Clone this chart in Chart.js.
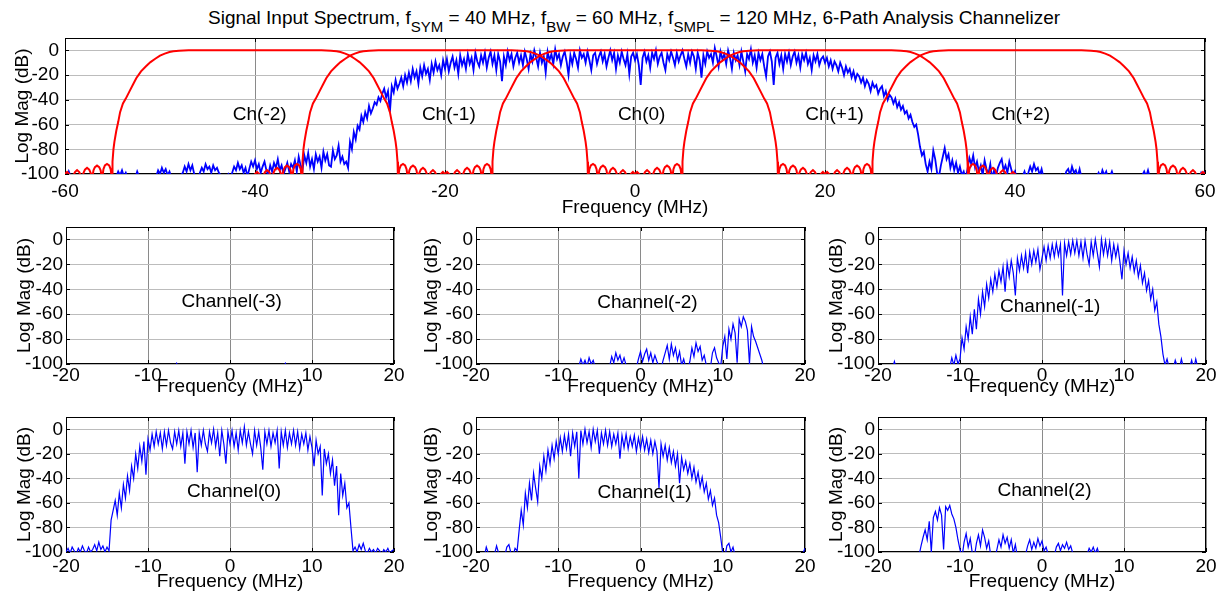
<!DOCTYPE html>
<html lang="en">
<head>
<meta charset="UTF-8">
<title>6-Path Analysis Channelizer</title>
<script src="https://cdn.jsdelivr.net/npm/chart.js@4.4.1/dist/chart.umd.min.js"></script>
<style>
    body { margin: 0; background: #fff; width: 1223px; height: 599px; overflow: hidden; position: relative;
           font-family: "Liberation Sans", Arial, sans-serif; }
    canvas { position: absolute; }
    #title { position: absolute; left: 208px; top: 7px; font-size: 19px; line-height: 22px; white-space: nowrap; color: #000; }
    #title sub { font-size: 15px; vertical-align: -8px; line-height: 0; }
</style>
</head>
<body>
<div id="title">Signal Input Spectrum, f<sub>SYM</sub> = 40 MHz, f<sub>BW</sub> = 60 MHz, f<sub>SMPL</sub> = 120 MHz, 6-Path Analysis Channelizer</div>

<script>
    //---------------------------------------- data ----------------------------------------

    // top panel: input spectrum, one value every 0.2 MHz from -60 to 60 (each row = 4 MHz)
    var topFreqStart = -60, topFreqStep = 0.2;
    var topSpectrumDb = [
        -100, -103, -98, -102, -104, -101, -103, -105, -102, -104, -103, -105, -102, -104, -101, -103, -105, -104, -102, -104,
        -103, -105, -102, -104, -103, -101, -104, -102, -98, -101, -97, -102, -99, -103, -104, -102, -105, -103, -98, -102,
        -104, -103, -105, -102, -104, -101, -103, -105, -102, -97, -100, -95, -99, -96, -101, -98, -103, -104, -102, -105,
        -103, -101, -99, -94, -98, -92, -97, -93, -100, -103, -104, -99, -95, -98, -92, -96, -94, -99, -93, -97,
        -95, -99, -101, -103, -104, -102, -100, -104, -99, -94, -97, -91, -96, -93, -99, -95, -102, -96, -90, -94,
        -89, -96, -92, -99, -94, -90, -97, -101, -93, -98, -91, -95, -88, -97, -93, -100, -96, -91, -98, -92,
        -95, -89, -98, -86, -93, -97, -85, -91, -83, -94, -88, -96, -84, -90, -86, -95, -82, -89, -84, -93,
        -94, -81, -88, -85, -77, -90, -86, -92, -90, -95, -74, -80, -66, -72, -61, -64, -53, -58, -50, -55,
        -45, -51, -47, -42, -44, -38, -41, -35, -31, -38, -33, -50, -29, -34, -24, -31, -27, -22, -29, -20,
        -26, -18, -25, -15, -22, -17, -27, -14, -21, -12, -19, -15, -24, -11, -18, -9, -16, -12, -20, -8,
        -15, -7, -17, -10, -5, -14, -8, -19, -4, -12, -7, -15, -3, -11, -6, -16, -2, -9, -13, -4,
        -10, -2, -14, -6, -1, -11, -4, -16, -3, -9, -25, -5, -12, -1, -8, -3, -13, -6, -2, -10,
        -4, -12, -1, -7, -15, -3, -9, 0, -6, -13, -2, -10, -5, -18, -1, -8, -3, -11, 1, -7,
        -3, -12, -5, -1, -9, -20, -4, -11, -2, -7, -14, 0, -6, -3, -10, -1, -8, -16, -4, -2,
        -11, -5, -1, -9, -3, -13, -6, 0, -8, -2, -15, -4, -10, -1, -7, -12, -3, -19, -5, -2,
        -8, -3, -12, -28, -6, -1, -9, -4, -14, -2, -7, 0, -11, -5, -2, -10, -16, -3, -8, -1,
        -6, -12, -2, -9, -4, 0, -7, -13, -3, -10, -1, -5, -15, -2, -8, -22, -4, -11, -1, -6,
        -3, -10, 2, -5, -13, -1, -7, -3, -11, 0, -6, -15, -2, -8, -4, -12, -1, -9, -17, -3,
        -7, 1, -10, -4, -14, -2, -8, -3, -13, -21, -5, -1, -9, -28, -6, -2, -11, -4, -15, -3,
        -9, -2, -12, -5, -1, -10, -4, -14, -3, -8, -2, -11, -6, -16, -4, -9, -3, -12, -7, -5,
        -10, -6, -13, -8, -15, -9, -12, -17, -10, -14, -20, -13, -18, -15, -22, -17, -24, -19, -21, -26,
        -22, -29, -24, -27, -33, -26, -30, -28, -35, -31, -29, -37, -33, -40, -36, -38, -43, -39, -46, -42,
        -48, -45, -51, -49, -55, -52, -58, -62, -60, -68, -78, -85, -82, -92, -98, -90, -96, -81, -88, -99,
        -102, -93, -86, -79, -88, -84, -95, -89, -97, -91, -99, -94, -101, -98, -104, -96, -87, -92, -85, -95,
        -90, -98, -93, -101, -89, -96, -100, -92, -104, -97, -102, -95, -91, -88, -97, -93, -99, -90, -96, -102,
        -98, -104, -103, -105, -102, -98, -103, -99, -94, -98, -92, -97, -95, -101, -96, -103, -104, -102, -105, -103,
        -104, -105, -103, -104, -101, -105, -103, -98, -96, -101, -94, -99, -97, -102, -96, -103, -105, -104, -102, -104,
        -105, -103, -104, -102, -99, -103, -97, -101, -98, -104, -102, -98, -103, -105, -104, -102, -105, -103, -104, -105,
        -104, -102, -105, -103, -104, -105, -103, -101, -98, -102, -97, -103, -104, -105, -102, -104, -105, -103, -104, -102,
        -105, -104, -103, -105, -102, -104, -105, -103, -104, -105, -102, -104, -103, -105, -104, -103, -101, -104, -99, -102,
        -98
    ];

    // analysis filter response (one side, offset from channel centre in MHz)
    var chanCenters = [-40, -20, 0, 20, 40];
    var filterOffset = [0, 7, 7.5, 8, 8.6, 9, 9.5, 10, 10.5, 11, 11.5, 12, 12.5, 12.8, 13.2, 13.6, 13.9, 14.2, 14.4, 14.6, 14.8, 14.9, 15.0, 15.05,
        15.2, 15.35, 15.58, 15.8, 15.95, 16.1,
        16.25, 16.4, 16.63, 16.85, 17.0, 17.15,
        17.3, 17.45, 17.68, 17.9, 18.05, 18.2,
        18.35, 18.5, 18.73, 18.95, 19.1, 19.25,
        19.4, 19.55, 19.78, 20.0, 20.15, 20.3];
    var filterDb = [0, 0, -0.05, -0.3, -0.8, -1.4, -2.6, -4.3, -6.8, -9.5, -13, -17, -22.5, -27, -33, -39, -43, -50, -58, -65, -74, -80, -90, -104,
        -96, -93, -91.8, -93, -96, -104,
        -97, -94.5, -93.2, -94.5, -97, -104,
        -99, -96.5, -95, -96.5, -99, -104,
        -101, -98.5, -96.8, -98.5, -101, -104,
        -102, -100, -98.3, -100, -102, -104];

    var topLabels = ['Ch(-2)', 'Ch(-1)', 'Ch(0)', 'Ch(+1)', 'Ch(+2)'];
    var topLabelX = [-39.5, -19.6, 0.7, 21.0, 40.6];
    var topLabelY = -52;

    // channel outputs, one value every 0.25 MHz from -20 to 20 (each row = 4 MHz)
    var subFreqStart = -20, subFreqStep = 0.25;
    var chM3Db = [
        -104, -104, -104, -104, -104, -104, -104, -104, -104, -104, -104, -104, -104, -104, -104, -104,
        -104, -104, -104, -104, -104, -104, -104, -104, -104, -104, -104, -104, -104, -104, -104, -104,
        -104, -104, -104, -104, -104, -104, -104, -104, -104, -104, -104, -104, -104, -104, -104, -104,
        -104, -104, -104, -104, -104, -104, -99.5, -104, -104, -104, -104, -104, -104, -104, -104, -104,
        -104, -104, -104, -104, -104, -104, -104, -104, -104, -104, -104, -104, -104, -104, -104, -104,
        -104, -104, -104, -104, -104, -104, -104, -104, -104, -104, -104, -104, -104, -104, -104, -104,
        -104, -104, -104, -104, -104, -104, -104, -104, -104, -104, -104, -99.5, -104, -104, -104, -104,
        -104, -104, -104, -104, -104, -104, -104, -104, -104, -104, -104, -104, -104, -104, -104, -104,
        -104, -104, -104, -104, -104, -104, -104, -104, -104, -104, -104, -104, -104, -104, -104, -104,
        -104, -104, -104, -104, -104, -104, -104, -104, -104, -104, -104, -104, -104, -104, -104, -104,
        -104
    ];
    var chM2Db = [
        -104, -104, -104, -104, -104, -104, -104, -104, -104, -104, -104, -104, -104, -104, -104, -104,
        -104, -104, -104, -104, -104, -104, -104, -104, -104, -104, -104, -104, -104, -104, -104, -104,
        -104, -104, -104, -104, -104, -104, -104, -104, -104, -104, -104, -104, -104, -104, -104, -104,
        -104, -104, -102, -96, -101, -97, -102, -95, -100, -97, -103, -104, -104, -104, -104, -104,
        -104, -102, -94, -99, -91, -97, -93, -100, -95, -101, -104, -104, -104, -104, -103, -96,
        -90, -98, -92, -88, -97, -91, -99, -93, -98, -102, -104, -97, -91, -85, -96, -84,
        -93, -87, -97, -90, -101, -96, -103, -104, -98, -87, -94, -83, -90, -86, -97, -93,
        -101, -104, -103, -91, -87, -95, -99, -102, -86, -78, -96, -72, -80, -68, -75, -99,
        -64, -70, -62, -66, -73, -100, -70, -78, -82, -87, -92, -97, -104, -104, -104, -104,
        -104, -104, -104, -104, -104, -104, -104, -104, -104, -104, -104, -104, -104, -104, -104, -104,
        -104
    ];
    var chM1Db = [
        -104, -104, -104, -104, -104, -104, -104, -104, -98, -104, -104, -104, -104, -104, -104, -104,
        -104, -104, -104, -104, -104, -104, -104, -104, -104, -104, -104, -104, -104, -104, -104, -104,
        -104, -104, -104, -103, -95, -101, -93, -100, -96, -79, -88, -70, -80, -62, -76, -56,
        -72, -48, -60, -42, -54, -36, -47, -32, -42, -28, -38, -25, -34, -22, -42, -19,
        -30, -17, -27, -45, -15, -25, -13, -23, -11, -27, -10, -20, -9, -18, -8, -24,
        -15, -6, -17, -5, -15, -4, -14, -3, -13, -4, -45, -3, -13, -2, -12, -1,
        -11, -1, -13, -2, -15, -1, -12, -20, -2, -13, 0, -11, -22, 0, -12, -1,
        -13, -2, -17, -4, -14, -5, -18, -32, -9, -20, -11, -23, -14, -26, -17, -30,
        -21, -35, -27, -41, -33, -48, -40, -57, -50, -68, -78, -92, -101, -96, -103, -101,
        -104, -97, -102, -104, -96, -103, -104, -104, -103, -97, -104, -96, -103, -104, -104, -104,
        -104
    ];
    var ch0Db = [
        -100, -97, -101, -96, -99, -102, -97, -100, -95, -99, -101, -96, -100, -98, -94, -99,
        -92, -98, -95, -100, -96, -99, -74, -66, -58, -70, -52, -64, -45, -56, -38, -50,
        -30, -40, -20, -32, -14, -26, -10, -37, -8, -17, -4, -14, -2, -12, -3, -16,
        -2, -13, -1, -11, -16, -2, -12, -1, -14, -3, -28, -2, -12, -1, -15, -3,
        -35, -3, -13, -1, -12, -18, -2, -11, 0, -14, -3, -22, -1, -12, -28, -2,
        -12, -1, -14, -3, -17, -1, -11, 2, -13, -2, -12, -20, -1, -13, -2, -15,
        -33, -2, -12, -1, -14, -3, -11, -1, -32, -2, -13, -1, -15, -3, -12, -1,
        -13, -2, -16, -4, -12, -3, -17, -6, -15, -30, -9, -20, -14, -54, -16, -28,
        -20, -36, -25, -46, -30, -70, -36, -54, -44, -64, -60, -80, -99, -96, -100, -94,
        -98, -93, -99, -101, -97, -100, -98, -101, -97, -99, -102, -98, -100, -97, -101, -99,
        -98
    ];
    var ch1Db = [
        -104, -103, -104, -102, -104, -96, -101, -103, -104, -102, -95, -101, -104, -102, -103, -96,
        -94, -101, -103, -97, -99, -82, -66, -78, -52, -64, -44, -58, -36, -48, -59, -30,
        -40, -22, -34, -17, -28, -13, -24, -10, -20, -7, -18, -5, -16, -4, -22, -3,
        -14, -2, -40, -1, -12, 0, -11, -2, -15, 0, -10, -1, -20, -3, -12, -1,
        -13, -2, -14, -4, -12, -3, -24, -5, -15, -4, -16, -6, -14, -5, -18, -7,
        -16, -6, -17, -8, -19, -9, -20, -10, -18, -48, -12, -22, -13, -25, -15, -27,
        -18, -30, -20, -44, -23, -33, -26, -36, -28, -40, -31, -43, -35, -47, -39, -51,
        -44, -57, -50, -62, -56, -70, -76, -88, -101, -104, -95, -93, -100, -96, -103, -104,
        -104, -104, -104, -104, -104, -104, -104, -104, -104, -104, -104, -104, -104, -104, -104, -104,
        -104, -104, -104, -104, -104, -104, -104, -104, -104, -104, -104, -104, -104, -104, -104, -101,
        -97
    ];
    var ch2Db = [
        -104, -104, -104, -104, -104, -104, -104, -104, -104, -104, -104, -104, -104, -104, -104, -104,
        -104, -104, -104, -104, -103, -95, -88, -82, -90, -75, -100, -72, -67, -74, -64, -70,
        -98, -63, -66, -62, -69, -73, -80, -90, -98, -104, -92, -85, -96, -89, -101, -104,
        -93, -86, -95, -82, -88, -97, -91, -103, -104, -104, -98, -90, -96, -86, -93, -88,
        -97, -90, -101, -94, -104, -104, -104, -104, -102, -95, -90, -98, -92, -97, -89, -95,
        -91, -99, -96, -102, -104, -104, -103, -96, -93, -99, -94, -97, -92, -98, -95, -101,
        -104, -104, -104, -104, -104, -104, -102, -97, -100, -96, -101, -97, -103, -104, -104, -104,
        -104, -104, -104, -104, -104, -104, -104, -104, -104, -104, -104, -104, -104, -104, -104, -104,
        -104, -104, -104, -104, -104, -104, -104, -104, -104, -104, -104, -104, -104, -104, -104, -104,
        -104, -104, -104, -104, -104, -104, -104, -104, -104, -104, -104, -104, -104, -104, -104, -104,
        -104
    ];

    var subSeries = [chM3Db, chM2Db, chM1Db, ch0Db, ch1Db, ch2Db];
    var subLabels = ['Channel(-3)', 'Channel(-2)', 'Channel(-1)', 'Channel(0)', 'Channel(1)', 'Channel(2)'];
    var subLabelX = [0.2, 0.85, 1.0, 0.5, 0.5, 0.3];
    var subLabelY = [-50, -51, -54, -51, -52, -50];

    var topTicksX = [-60, -40, -20, 0, 20, 40, 60];
    var subTicksX = [-20, -10, 0, 10, 20];
    var ticksY = [-100, -80, -60, -40, -20, 0];

    //---------------------------------------- drawing ----------------------------------------

    Chart.defaults.font.family = '"Liberation Sans", Arial, sans-serif';
    Chart.defaults.color = '#000';

    function toXY(start, step, values) {
        return values.map(function (v, i) {
            return {x: +(start + i * step).toFixed(3), y: v};
        });
    }

    function filterCurve(c) {
        var pts = [];
        for (var i = filterOffset.length - 1; i > 0; i--) pts.push({x: c - filterOffset[i], y: filterDb[i]});
        for (var j = 0; j < filterOffset.length; j++) pts.push({x: c + filterOffset[j], y: filterDb[j]});
        return pts;
    }

    // black box + inward tick marks (matlab style) and the text labels inside the axes
    var framePlugin = {
        id: 'frame',
        beforeDatasetsDraw: function (chart) {
            var ctx = chart.ctx, a = chart.chartArea, sx = chart.scales.x, sy = chart.scales.y;
            ctx.save();
            ctx.strokeStyle = '#000';
            ctx.lineWidth = 1;
            ctx.strokeRect(Math.round(a.left) + 0.5, Math.round(a.top) + 0.5,
                Math.round(a.right - a.left) - 1, Math.round(a.bottom - a.top) - 1);
            ctx.beginPath();
            sx.ticks.forEach(function (t) {
                var px = Math.round(sx.getPixelForValue(t.value)) + 0.5;
                ctx.moveTo(px, a.bottom); ctx.lineTo(px, a.bottom - 4);
                ctx.moveTo(px, a.top); ctx.lineTo(px, a.top + 4);
            });
            sy.ticks.forEach(function (t) {
                var py = Math.round(sy.getPixelForValue(t.value)) + 0.5;
                ctx.moveTo(a.left, py); ctx.lineTo(a.left + 4, py);
                ctx.moveTo(a.right, py); ctx.lineTo(a.right - 4, py);
            });
            ctx.stroke();
            ctx.restore();
        },
        afterDatasetsDraw: function (chart, args, opts) {
            var ctx = chart.ctx, sx = chart.scales.x, sy = chart.scales.y;
            ctx.save();
            ctx.fillStyle = '#000';
            ctx.font = opts.size + 'px "Liberation Sans", Arial, sans-serif';
            ctx.textAlign = 'center';
            ctx.textBaseline = 'middle';
            (opts.labels || []).forEach(function (l) {
                ctx.fillText(l.text, sx.getPixelForValue(l.x), sy.getPixelForValue(l.y));
            });
            ctx.restore();
        }
    };

    function makePanel(box, xMin, xMax, xTicks, datasets, labels) {
        // padding wide enough that the edge tick labels never push the plot area in
        var padT = 24, padR = 28;
        var w = box.yW + box.w + padR, h = padT + box.h + box.xH;
        var cv = document.createElement('canvas');
        cv.width = w;
        cv.height = h;
        cv.style.left = (box.l - box.yW) + 'px';
        cv.style.top = (box.t - padT) + 'px';
        document.body.appendChild(cv);

        return new Chart(cv, {
            type: 'line',
            data: {datasets: datasets},
            plugins: [framePlugin],
            options: {
                responsive: false,
                devicePixelRatio: 1,
                animation: false,
                parsing: false,
                normalized: true,
                spanGaps: false,
                layout: {padding: {top: padT, right: padR, left: 0, bottom: 0}},
                elements: {point: {radius: 0}, line: {tension: 0}},
                plugins: {
                    legend: {display: false},
                    tooltip: {enabled: false},
                    frame: {labels: labels, size: 19}
                },
                scales: {
                    x: {
                        type: 'linear', min: xMin, max: xMax,
                        afterBuildTicks: function (s) { s.ticks = xTicks.map(function (v) { return {value: v}; }); },
                        afterFit: function (s) { s.height = box.xH; },
                        ticks: {font: {size: 19}, padding: box.xPad, maxRotation: 0, autoSkip: false,
                            callback: function (v) { return String(v); }},
                        grid: {color: '#8a8a8a', lineWidth: 1, drawTicks: false},
                        border: {display: false},
                        title: {display: true, text: 'Frequency (MHz)', font: {size: 19}, padding: 0}
                    },
                    y: {
                        type: 'linear', min: -100, max: 10,
                        afterBuildTicks: function (s) { s.ticks = ticksY.map(function (v) { return {value: v}; }); },
                        afterFit: function (s) { s.width = box.yW; },
                        ticks: {font: {size: 19}, padding: box.yPad, autoSkip: false,
                            callback: function (v) { return String(v); }},
                        grid: {color: '#bcbcbc', lineWidth: 1, drawTicks: false},
                        border: {display: false},
                        title: {display: true, text: 'Log Mag (dB)', font: {size: 19}, padding: 0}
                    }
                }
            }
        });
    }

    // top panel
    var topSets = chanCenters.map(function (c) {
        return {data: filterCurve(c), borderColor: '#ff0000', borderWidth: 2};
    });
    topSets.push({data: toXY(topFreqStart, topFreqStep, topSpectrumDb), borderColor: '#0000ff', borderWidth: 1.8});
    makePanel({l: 65, t: 38, w: 1140, h: 136, yW: 54, xH: 45, xPad: 6, yPad: 6}, -60, 60, topTicksX, topSets,
        topLabels.map(function (t, i) { return {text: t, x: topLabelX[i], y: topLabelY}; }));

    // 2 x 3 channel panels
    var cols = [{l: 66, w: 328, yW: 53}, {l: 476, w: 329, yW: 56}, {l: 878, w: 328, yW: 53}];
    var rows = [{t: 227, h: 137, xH: 34, xPad: 0}, {t: 417, h: 135, xH: 41, xPad: 3}];
    subSeries.forEach(function (vals, k) {
        var r = rows[Math.floor(k / 3)], c = cols[k % 3];
        makePanel({l: c.l, t: r.t, w: c.w, h: r.h, yW: c.yW, xH: r.xH, xPad: r.xPad, yPad: 3}, -20, 20, subTicksX,
            [{data: toXY(subFreqStart, subFreqStep, vals), borderColor: '#0000ff', borderWidth: 1.2}],
            [{text: subLabels[k], x: subLabelX[k], y: subLabelY[k]}]);
    });
</script>
</body>
</html>
